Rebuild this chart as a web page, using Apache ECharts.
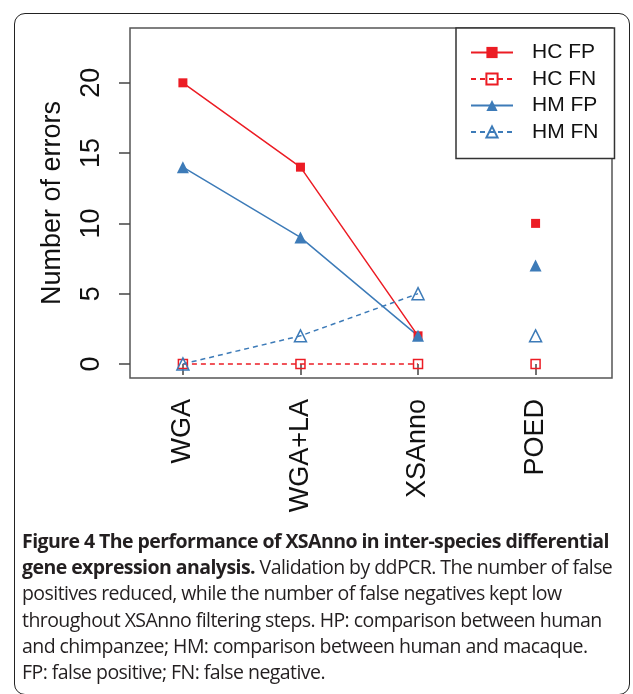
<!DOCTYPE html>
<html>
<head>
<meta charset="utf-8">
<script src="https://cdn.jsdelivr.net/npm/echarts@6/dist/echarts.min.js"></script>
<style>
  html, body { margin: 0; padding: 0; background: #fff; }
  #wrap { position: relative; width: 633px; height: 694px; overflow: hidden; }
  #chart { position: absolute; left: 0; top: 0; width: 633px; height: 694px; }
  #frame {
    position: absolute; left: 14px; top: 13px; width: 616px; height: 682px;
    border: 1.5px solid #222; border-radius: 11px; box-sizing: border-box;
  }
  #caption {
    position: absolute; left: 22px; top: 528px; width: 605px;
    font-family: "Open Sans", sans-serif; font-size: 19.5px; line-height: 26.2px;
    color: #231f20; white-space: nowrap; letter-spacing: -0.56px;
  }
  #caption b { font-weight: 700; }
</style>
</head>
<body>
<div id="wrap">
  <div id="frame"></div>
  <div id="chart"></div>
  <div id="caption">
    <b>Figure 4 The performance of XSAnno in inter-species differential</b><br>
    <b>gene expression analysis.</b> Validation by ddPCR. The number of false<br>
    positives reduced, while the number of false negatives kept low<br>
    throughout XSAnno filtering steps. HP: comparison between human<br>
    and chimpanzee; HM: comparison between human and macaque.<br>
    FP: false positive; FN: false negative.
  </div>
</div>
<script>
  // data
  const categories = ['WGA', 'WGA+LA', 'XSAnno', 'POED'];
  const hcFP = [20, 14, 2, 10];
  const hcFN = [0, 0, 0, 0];
  const hmFP = [14, 9, 2, 7];
  const hmFN = [0, 2, 5, 2];
  const yTicks = [0, 5, 10, 15, 20];

  const red = '#ec1c24';
  const blue = '#3d7bb8';

  // first three steps are joined by a line, POED is drawn alone
  const pts = (vals) => vals.map((v, i) => [i + 1, v]);
  const joined = (vals) => pts(vals).slice(0, 3);
  const alone = (vals) => pts(vals).slice(3);

  function makeSeries(name, vals, color, symbol, size, hollow, dashed) {
    const itemStyle = hollow
      ? { color: 'rgba(255,255,255,0)', borderColor: color, borderWidth: 1.5, opacity: 1 }
      : { color: color, opacity: 1 };
    const line = {
      name: name,
      type: 'line',
      data: joined(vals),
      symbol: symbol,
      symbolSize: size,
      showSymbol: true,
      itemStyle: itemStyle,
      lineStyle: { color: color, width: 1.5, type: dashed ? [5, 4] : 'solid' },
      emphasis: { disabled: true },
      animation: false
    };
    const dot = {
      name: name,
      type: 'scatter',
      data: alone(vals),
      symbol: symbol,
      symbolSize: size,
      itemStyle: itemStyle,
      emphasis: { disabled: true },
      animation: false
    };
    return [line, dot];
  }

  const chart = echarts.init(document.getElementById('chart'));
  const axisFont = { fontFamily: 'Liberation Sans, Arial, sans-serif', fontSize: 27, color: '#111' };

  chart.setOption({
    animation: false,
    grid: {
      left: 130, right: 21, top: 28, bottom: 316,
      show: true, borderColor: '#555', borderWidth: 1.5
    },
    legend: {
      left: 456, top: 28,
      orient: 'vertical',
      padding: [14, 16, 16, 14],
      itemWidth: 42, itemHeight: 14, itemGap: 5.5,
      borderColor: '#333', borderWidth: 1.5,
      backgroundColor: '#fff',
      textStyle: { fontFamily: 'Liberation Sans, Arial, sans-serif', fontSize: 21, color: '#111', padding: [0, 0, 0, 14] },
      data: ['HC FP', 'HC FN', 'HM FP', 'HM FN']
    },
    xAxis: {
      type: 'value',
      min: 0.55, max: 4.65,
      splitLine: { show: false },
      axisLine: { show: false },
      axisTick: { show: true, length: 11, customValues: [1, 2, 3, 4], lineStyle: { color: '#444', width: 1.5 } },
      axisLabel: Object.assign({
        rotate: 90, margin: 21,
        customValues: [1, 2, 3, 4],
        formatter: (v) => categories[Math.round(v) - 1]
      }, axisFont)
    },
    yAxis: {
      type: 'value',
      min: -1, max: 23.9,
      name: 'Number of errors',
      nameLocation: 'middle',
      nameRotate: 90,
      nameGap: 64,
      nameTextStyle: axisFont,
      splitLine: { show: false },
      axisLine: { show: false },
      axisTick: { show: true, length: 11, customValues: yTicks, lineStyle: { color: '#444', width: 1.5 } },
      axisLabel: Object.assign({ rotate: 90, margin: 25, customValues: yTicks }, axisFont)
    },
    series: [].concat(
      makeSeries('HC FP', hcFP, red, 'rect', 9, false, false),
      makeSeries('HC FN', hcFN, red, 'rect', 9, true, true),
      makeSeries('HM FP', hmFP, blue, 'triangle', 12, false, false),
      makeSeries('HM FN', hmFN, blue, 'triangle', 12, true, true)
    )
  });
</script>
</body>
</html>
